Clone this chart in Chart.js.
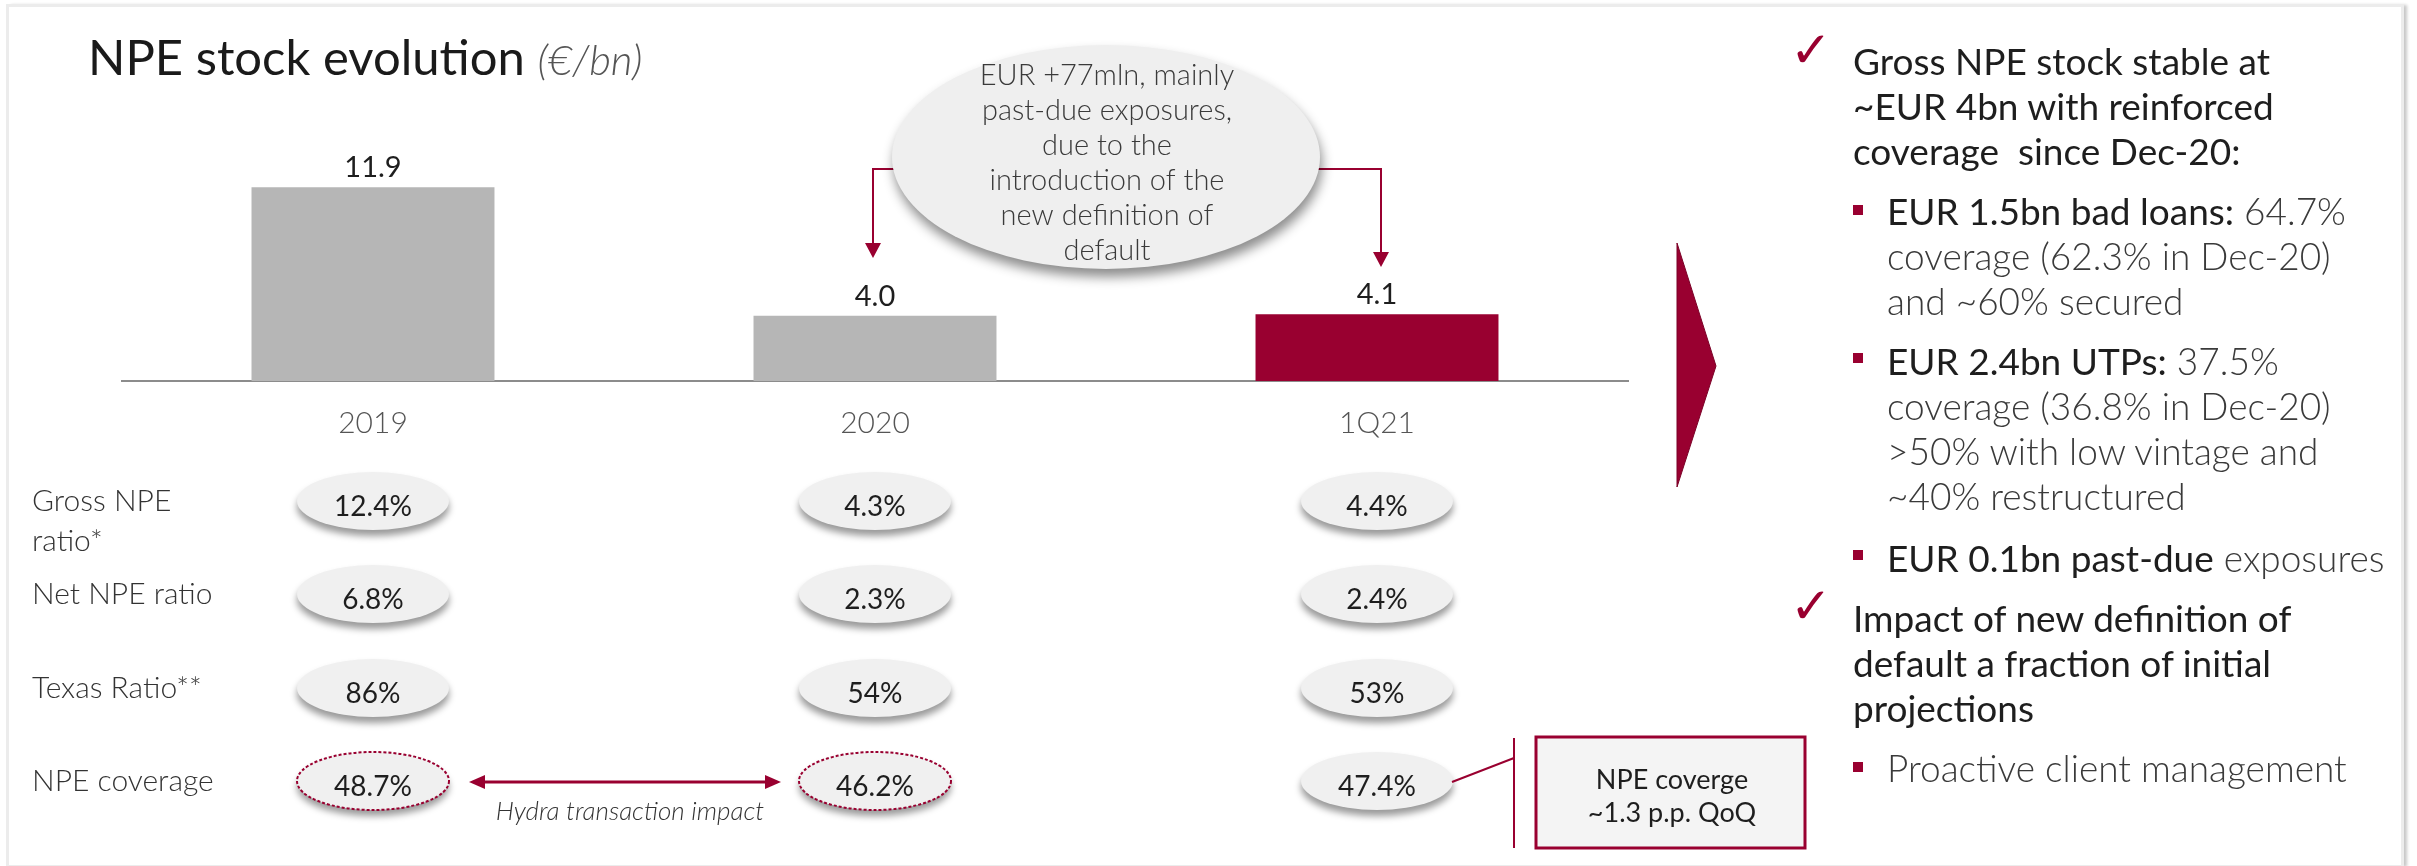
<!DOCTYPE html>
<html>
<head>
<meta charset="utf-8">
<script src="https://cdn.jsdelivr.net/npm/chart.js@4.4.0/dist/chart.umd.min.js"></script>
<style>
html, body { margin: 0; padding: 0; background: #fff; }
body { width: 2417px; height: 866px; position: relative; overflow: hidden; font-family: Lato, "Noto Sans", sans-serif; }
#frame { position: absolute; left: 6px; top: 4px; width: 2392px; height: 858px; border: 3px solid #ececec; box-shadow: 4px 0 3px -1px #c8c8c8; }
#chart { position: absolute; left: 0; top: 0; }
.title { position: absolute; left: 88px; top: 27px; font-size: 49px; color: #1a1a1a; white-space: nowrap; }
.title i { font-weight: 300; font-size: 42px; color: #555; }
.panel { position: absolute; left: 1853px; white-space: nowrap; font-size: 37px; line-height: 45px; color: #1e1e1e; }
.sub { left: 1887px; }
.light { font-weight: 300; color: #3a3a3a; }
.check { position: absolute; left: 1790px; font-family: "DejaVu Sans"; font-size: 50px; line-height: 1; color: #990030; }
.sq { position: absolute; left: 1853px; width: 10px; height: 10px; background: #990030; }
</style>
</head>
<body>
<div id="frame"></div>
<canvas id="chart" width="2417" height="866"></canvas>
<div class="title">NPE stock evolution <i>(€/bn)</i></div>

<div class="check" style="top:25px">✓</div>
<div class="panel" style="top:38px">Gross NPE stock stable at<br>~EUR 4bn with reinforced<br>coverage&nbsp; since Dec-20:</div>

<div class="sq" style="top:205px"></div>
<div class="panel sub" style="top:188px">EUR 1.5bn bad loans:<span class="light"> 64.7%<br>coverage (62.3% in Dec-20)<br>and ~60% secured</span></div>

<div class="sq" style="top:353px"></div>
<div class="panel sub" style="top:338px">EUR 2.4bn UTPs:<span class="light"> 37.5%<br>coverage (36.8% in Dec-20)<br>&gt;50% with low vintage and<br>~40% restructured</span></div>

<div class="sq" style="top:550px"></div>
<div class="panel sub" style="top:535px">EUR 0.1bn past-due<span class="light"> exposures</span></div>

<div class="check" style="top:581px">✓</div>
<div class="panel" style="top:595px">Impact of new definition of<br>default a fraction of initial<br>projections</div>

<div class="sq" style="top:762px"></div>
<div class="panel sub light" style="top:745px">Proactive client management</div>

<script>
const categories = ['2019', '2020', '1Q21'];
const npeStock = [11.9, 4.0, 4.1];
const barColors = ['#b6b6b6', '#b6b6b6', '#990030'];

const rowLabels = [['Gross NPE', 'ratio*'], ['Net NPE ratio'], ['Texas Ratio**'], ['NPE coverage']];
const grossNpeRatio = [12.4, 4.3, 4.4];
const netNpeRatio = [6.8, 2.3, 2.4];
const texasRatio = [86, 54, 53];
const npeCoverage = [48.7, 46.2, 47.4];

const bubbleLines = ['EUR +77mln, mainly', 'past-due exposures,', 'due to the', 'introduction of the', 'new definition of', 'default'];
const calloutLines = ['NPE coverge', '~1.3 p.p. QoQ'];

const RED = '#990030';

function arrowHead(ctx, x, y, dir) {
    // dir: 'down', 'left', 'right'
    ctx.beginPath();
    if (dir === 'down') { ctx.moveTo(x, y); ctx.lineTo(x - 8, y - 15); ctx.lineTo(x + 8, y - 15); }
    if (dir === 'left') { ctx.moveTo(x, y); ctx.lineTo(x + 16, y - 7); ctx.lineTo(x + 16, y + 7); }
    if (dir === 'right') { ctx.moveTo(x, y); ctx.lineTo(x - 16, y - 7); ctx.lineTo(x - 16, y + 7); }
    ctx.closePath();
    ctx.fill();
}

function pill(ctx, x, y, text, dashed) {
    ctx.save();
    ctx.shadowColor = 'rgba(0,0,0,0.4)';
    ctx.shadowBlur = 7;
    ctx.shadowOffsetY = 6;
    ctx.fillStyle = '#f0f0f0';
    ctx.beginPath();
    ctx.ellipse(x, y, 76, 29, 0, 0, Math.PI * 2);
    ctx.fill();
    ctx.restore();
    if (dashed) {
        ctx.save();
        ctx.strokeStyle = RED;
        ctx.lineWidth = 2;
        ctx.setLineDash([3, 2]);
        ctx.beginPath();
        ctx.ellipse(x, y, 76, 29, 0, 0, Math.PI * 2);
        ctx.stroke();
        ctx.restore();
    }
    ctx.fillStyle = '#1e1e1e';
    ctx.font = '400 28px Lato';
    ctx.textAlign = 'center';
    ctx.textBaseline = 'middle';
    ctx.fillText(text, x, y + 6);
}

const overlay = {
    id: 'overlay',
    afterDraw(chart) {
        const ctx = chart.ctx;
        const xs = chart.scales.x;
        const meta = chart.getDatasetMeta(0);

        // values over bars
        ctx.save();
        ctx.fillStyle = '#1e1e1e';
        ctx.font = '400 29px Lato';
        ctx.textAlign = 'center';
        ctx.textBaseline = 'alphabetic';
        meta.data.forEach((bar, i) => {
            ctx.fillText(npeStock[i].toFixed(1), bar.x, bar.y - 10);
        });

        // connectors from the bubble
        ctx.strokeStyle = RED;
        ctx.fillStyle = RED;
        ctx.lineWidth = 2;
        ctx.beginPath();
        ctx.moveTo(920, 169); ctx.lineTo(873, 169); ctx.lineTo(873, 245);
        ctx.moveTo(1300, 169); ctx.lineTo(1381, 169); ctx.lineTo(1381, 254);
        ctx.stroke();
        arrowHead(ctx, 873, 258, 'down');
        arrowHead(ctx, 1381, 267, 'down');

        // bubble
        ctx.save();
        ctx.shadowColor = 'rgba(0,0,0,0.45)';
        ctx.shadowBlur = 12;
        ctx.shadowOffsetY = 8;
        ctx.shadowOffsetX = 2;
        ctx.fillStyle = '#efefef';
        ctx.beginPath();
        ctx.ellipse(1106, 157, 214, 112, 0, 0, Math.PI * 2);
        ctx.fill();
        ctx.restore();
        ctx.fillStyle = '#3a3a3a';
        ctx.font = '300 29px Lato';
        ctx.textAlign = 'center';
        ctx.textBaseline = 'middle';
        bubbleLines.forEach((t, i) => ctx.fillText(t, 1107, 76 + i * 35));

        // chevron
        ctx.fillStyle = RED;
        ctx.strokeStyle = '#7a0026';
        ctx.lineWidth = 1;
        ctx.beginPath();
        ctx.moveTo(1677, 243); ctx.lineTo(1716, 366); ctx.lineTo(1677, 487);
        ctx.closePath();
        ctx.fill();
        ctx.stroke();

        // ratio rows
        const rowY = [501, 594, 688, 781];
        const rows = [
            grossNpeRatio.map(v => v.toFixed(1) + '%'),
            netNpeRatio.map(v => v.toFixed(1) + '%'),
            texasRatio.map(v => v + '%'),
            npeCoverage.map(v => v.toFixed(1) + '%')
        ];
        ctx.textAlign = 'left';
        ctx.fillStyle = '#333';
        ctx.font = '300 30px Lato';
        rowLabels.forEach((lines, r) => {
            lines.forEach((t, k) => ctx.fillText(t, 32, rowY[r] + k * 40));
        });
        rows.forEach((vals, r) => {
            vals.forEach((t, i) => {
                pill(ctx, xs.getPixelForValue(i), rowY[r], t, r === 3 && i < 2);
            });
        });

        // Hydra arrow
        ctx.strokeStyle = RED;
        ctx.fillStyle = RED;
        ctx.lineWidth = 3;
        ctx.beginPath();
        ctx.moveTo(480, 782); ctx.lineTo(770, 782);
        ctx.stroke();
        arrowHead(ctx, 469, 782, 'left');
        arrowHead(ctx, 781, 782, 'right');
        ctx.fillStyle = '#333';
        ctx.font = 'italic 300 26px Lato';
        ctx.textAlign = 'center';
        ctx.fillText('Hydra transaction impact', 630, 812);

        // callout
        const c3 = xs.getPixelForValue(2);
        ctx.strokeStyle = RED;
        ctx.lineWidth = 2;
        ctx.beginPath();
        ctx.moveTo(c3 + 75, 782); ctx.lineTo(1514, 758);
        ctx.moveTo(1514, 738); ctx.lineTo(1514, 848);
        ctx.stroke();
        ctx.fillStyle = '#f4f4f4';
        ctx.fillRect(1536, 737, 269, 111);
        ctx.lineWidth = 3;
        ctx.strokeRect(1536, 737, 269, 111);
        ctx.fillStyle = '#1e1e1e';
        ctx.font = '400 27px Lato';
        calloutLines.forEach((t, i) => ctx.fillText(t, 1672, 780 + i * 33));
        ctx.restore();
    }
};

new Chart(document.getElementById('chart').getContext('2d'), {
    type: 'bar',
    data: {
        labels: categories,
        datasets: [{
            data: npeStock,
            backgroundColor: barColors,
            barPercentage: 0.968,
            categoryPercentage: 0.5
        }]
    },
    options: {
        responsive: false,
        animation: false,
        layout: { padding: { left: 122, right: 789, top: 153, bottom: 401 } },
        plugins: { legend: { display: false }, tooltip: { enabled: false } },
        scales: {
            x: {
                grid: { display: false, drawTicks: false },
                border: { display: true, color: '#8c8c8c', width: 2 },
                ticks: { font: { family: 'Lato', size: 30, weight: 300 }, color: '#555', padding: 24 }
            },
            y: { display: false, min: 0, max: 14 }
        }
    },
    plugins: [overlay]
});
</script>
</body>
</html>
